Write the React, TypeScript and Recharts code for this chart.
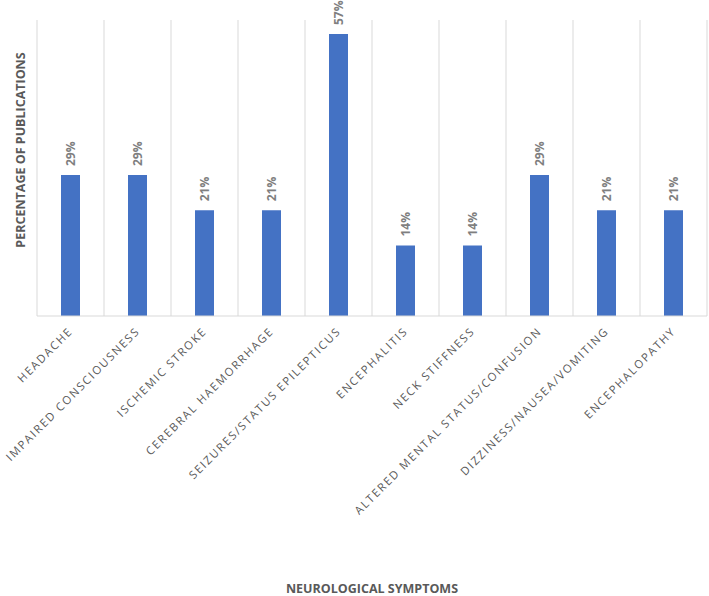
import React from "react";
import { BarChart, Bar, XAxis, YAxis, CartesianGrid, LabelList, Label } from "recharts";

const symptoms = [
  "HEADACHE",
  "IMPAIRED CONSCIOUSNESS",
  "ISCHEMIC STROKE",
  "CEREBRAL HAEMORRHAGE",
  "SEIZURES/STATUS EPILEPTICUS",
  "ENCEPHALITIS",
  "NECK STIFFNESS",
  "ALTERED MENTAL STATUS/CONFUSION",
  "DIZZINESS/NAUSEA/VOMITING",
  "ENCEPHALOPATHY",
];

const percentages = [28.57, 28.57, 21.43, 21.43, 57.14, 14.29, 14.29, 28.57, 21.43, 21.43];

const yDomain = [0, 60];

const data = symptoms.map((name, i) => ({ name, value: percentages[i] }));

const FONT = "'Open Sans', sans-serif";
const GRID = "#d9d9d9";
const TEXT = "#595959";

function SymptomTick(props: any) {
  const { x, y, payload } = props;
  const tx = x + 3;
  const ty = y + 8;
  return (
    <text
      x={tx}
      y={ty}
      transform={`rotate(-45, ${tx}, ${ty})`}
      textAnchor="end"
      fontFamily={FONT}
      fontSize={11.3}
      letterSpacing={1.7}
      fill={TEXT}
    >
      {payload.value}
    </text>
  );
}

function ValueLabel(props: any) {
  const { x, y, width, value } = props;
  const tx = x + width / 2 + 4.5;
  const ty = y - 9;
  return (
    <text
      x={tx}
      y={ty}
      transform={`rotate(-90, ${tx}, ${ty})`}
      textAnchor="start"
      fontFamily={FONT}
      fontSize={12}
      fontWeight={700}
      fill="#7f7f7f"
    >
      {Math.round(value)}%
    </text>
  );
}

export default function App() {
  return (
    <div style={{ position: "absolute", left: 0, top: 0, background: "#fff" }}>
      <BarChart width={709} height={596} data={data} margin={{ top: 20, right: 2, bottom: 0, left: 0 }}>
        <CartesianGrid
          horizontal={false}
          stroke={GRID}
          verticalCoordinatesGenerator={({ offset }: any) =>
            symptoms.map((_, i) => offset.left + (i * offset.width) / symptoms.length).concat(offset.left + offset.width)
          }
        />
        <XAxis
          dataKey="name"
          interval={0}
          height={280}
          axisLine={{ stroke: GRID }}
          tickLine={false}
          tick={<SymptomTick />}
        >
          <Label
            content={({ viewBox }: any) => (
              <text
                x={viewBox.x + viewBox.width / 2}
                y={viewBox.y + viewBox.height - 3}
                textAnchor="middle"
                fontFamily={FONT}
                fontSize={12.5}
                fontWeight={700}
                fill={TEXT}
              >
                NEUROLOGICAL SYMPTOMS
              </text>
            )}
          />
        </XAxis>
        <YAxis domain={yDomain} width={37} tick={false} axisLine={false} tickLine={false}>
          <Label
            content={({ viewBox }: any) => {
              const cx = viewBox.x + 24.5;
              const cy = viewBox.y + viewBox.height / 2 - 18;
              return (
                <text
                  x={cx}
                  y={cy}
                  transform={`rotate(-90, ${cx}, ${cy})`}
                  textAnchor="middle"
                  fontFamily={FONT}
                  fontSize={12.5}
                  fontWeight={700}
                  fill={TEXT}
                >
                  PERCENTAGE OF PUBLICATIONS
                </text>
              );
            }}
          />
        </YAxis>
        <Bar dataKey="value" fill="#4472C4" barSize={19} isAnimationActive={false}>
          <LabelList dataKey="value" content={<ValueLabel />} />
        </Bar>
      </BarChart>
    </div>
  );
}
